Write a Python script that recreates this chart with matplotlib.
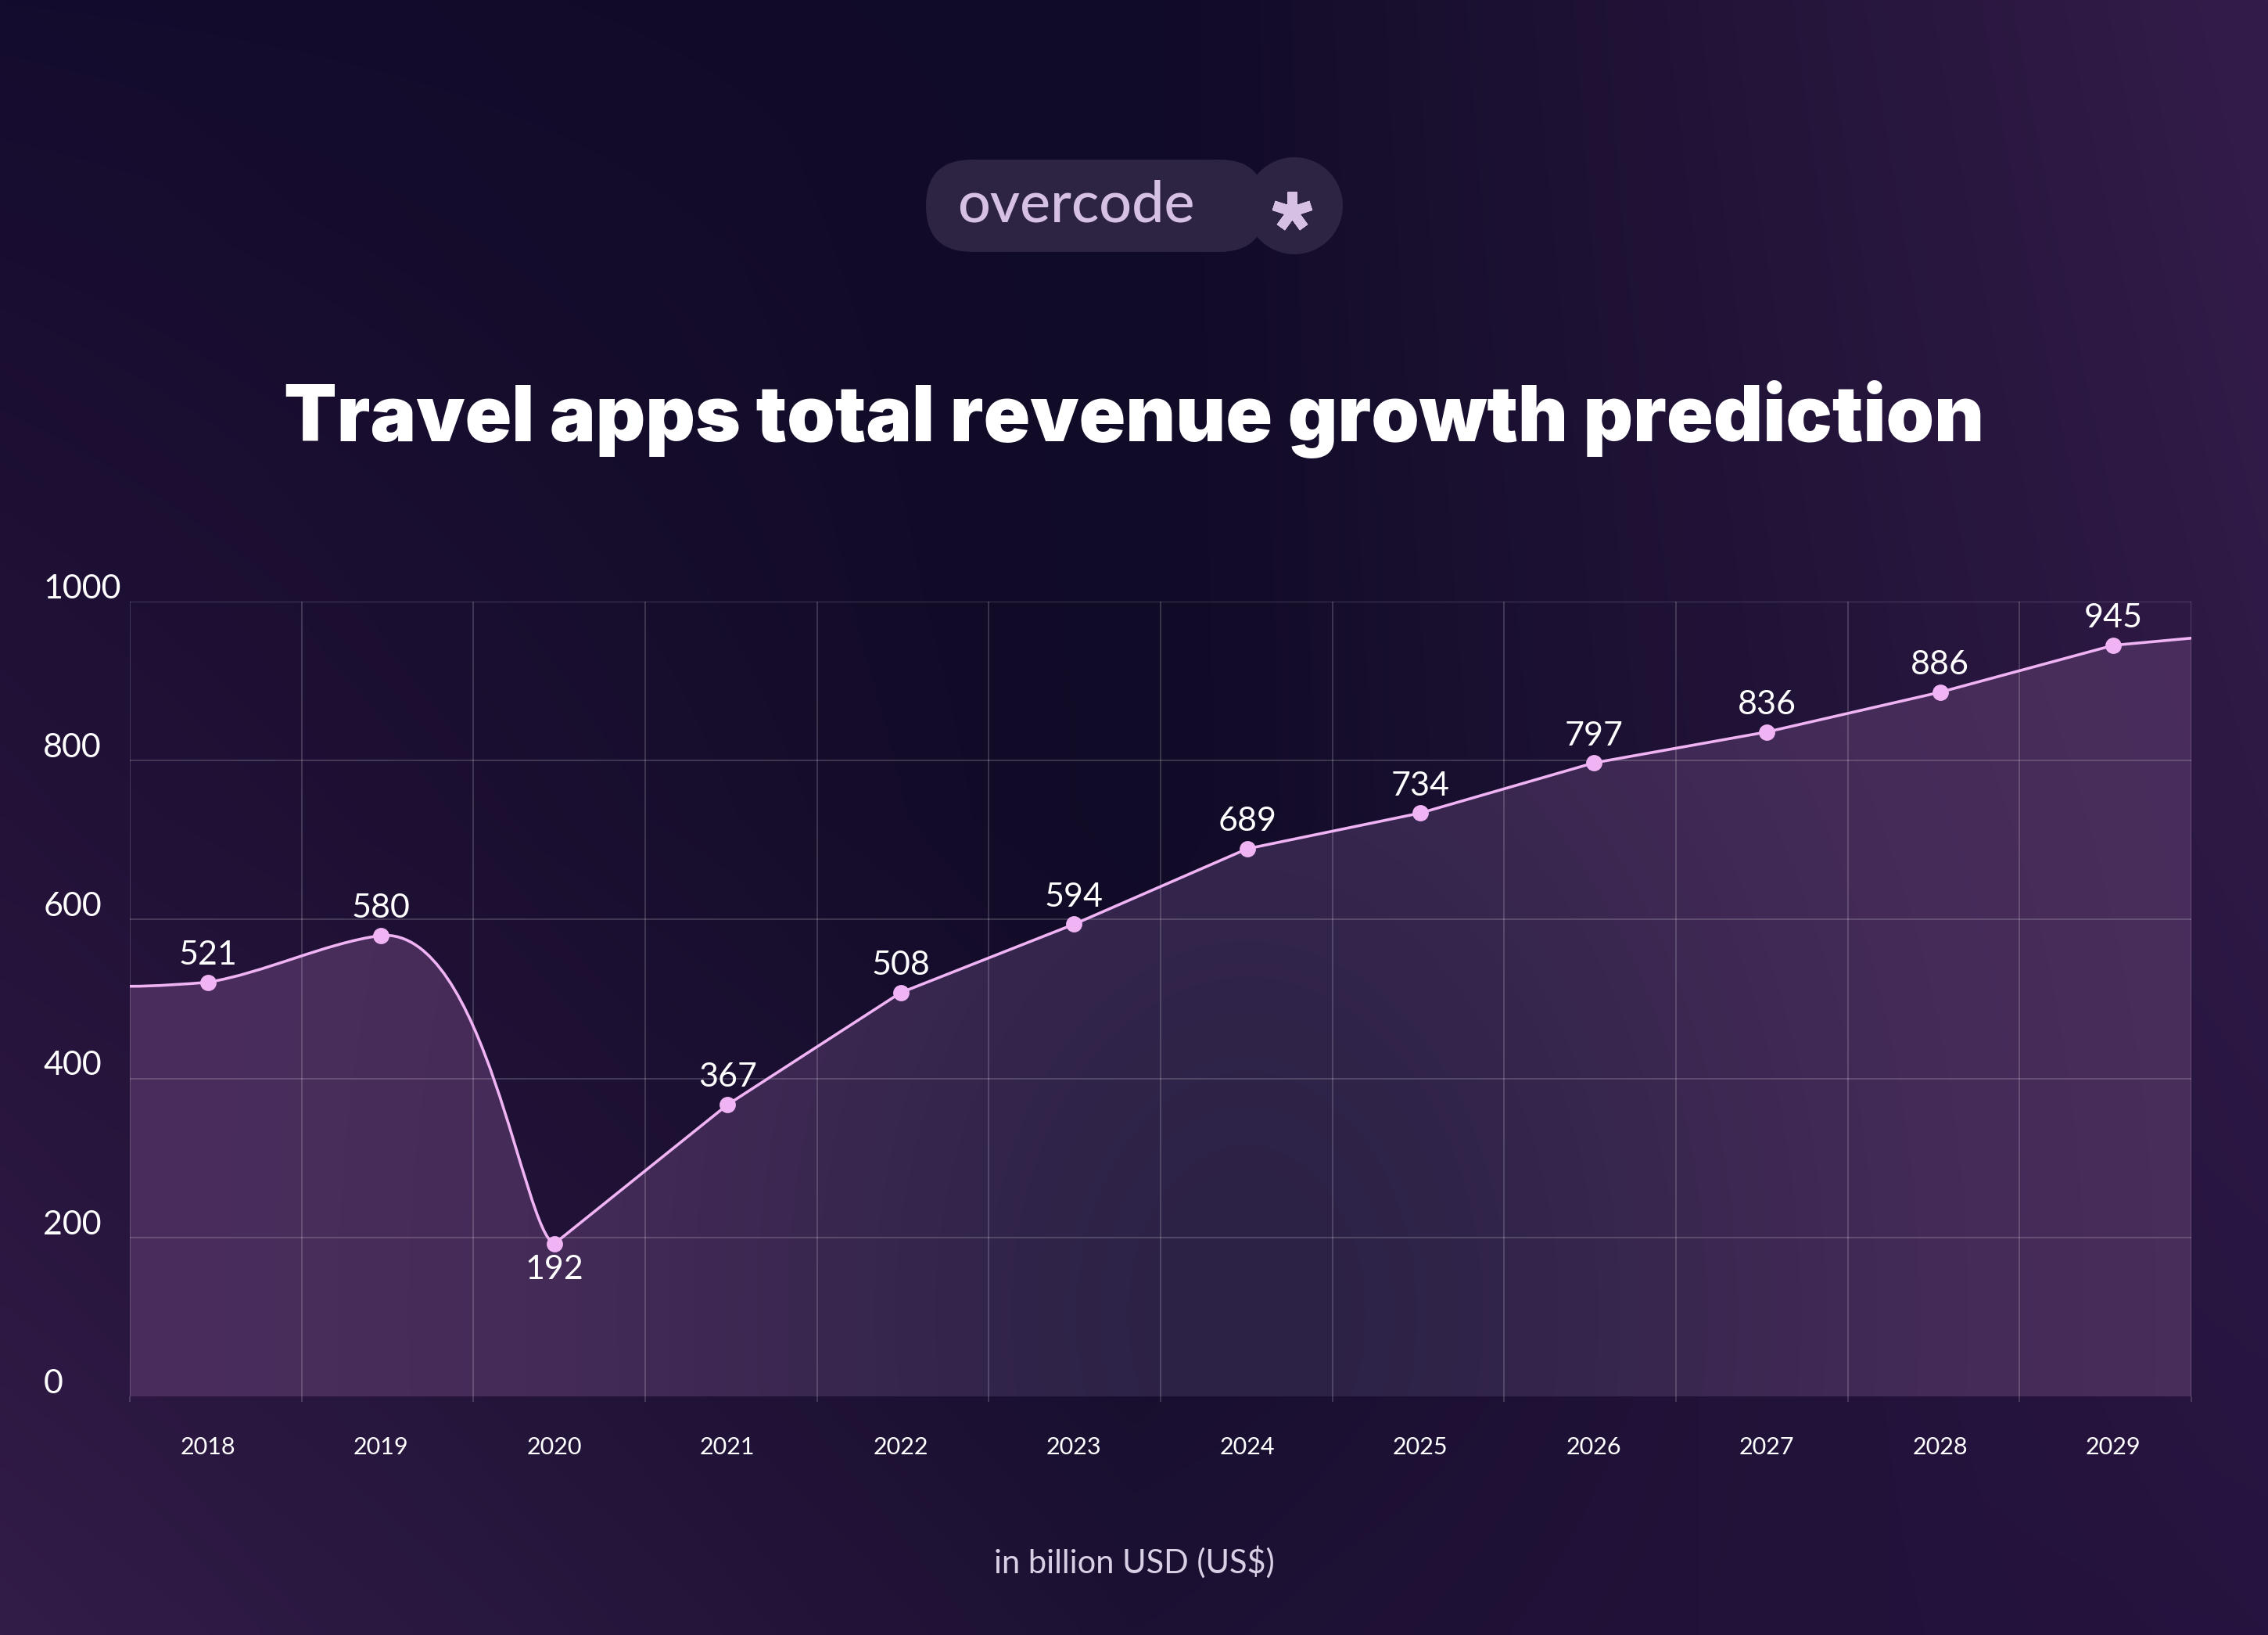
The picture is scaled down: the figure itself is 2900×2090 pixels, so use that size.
import numpy as np
import matplotlib.pyplot as plt
from matplotlib.path import Path
from matplotlib.patches import PathPatch, FancyBboxPatch, Circle

# data
years = ['2018', '2019', '2020', '2021', '2022', '2023',
         '2024', '2025', '2026', '2027', '2028', '2029']
revenue = [521, 580, 192, 367, 508, 594, 689, 734, 797, 836, 886, 945]
edge_values = [516, 954]          # line runs on to the left / right plot edges
y_ticks = [0, 200, 400, 600, 800, 1000]

title = 'Travel apps total revenue growth prediction'
caption = 'in billion USD (US$)'

W, H = 2900, 2090
line_c = '#f0b4f5'

fig = plt.figure(figsize=(W / 200, H / 200), dpi=200)


def hat_weights(t):
    w0 = np.clip(1 - 2 * t, 0, 1)
    w2 = np.clip(2 * t - 1, 0, 1)
    return [w0, 1 - w0 - w2, w2]


# background gradient (3x3 colour grid, blended)
grid = np.array([
    [(0x14, 0x0c, 0x2e), (0x10, 0x0b, 0x26), (0x34, 0x1c, 0x4a)],
    [(0x24, 0x12, 0x39), (0x10, 0x0b, 0x26), (0x2e, 0x19, 0x45)],
    [(0x32, 0x1c, 0x48), (0x1c, 0x11, 0x33), (0x26, 0x13, 0x3f)],
]) / 255.0
gx = hat_weights(np.linspace(0, 1, 290))
gy = hat_weights(np.linspace(0, 1, 209))
bg = np.zeros((209, 290, 3))
for r in range(3):
    for c in range(3):
        bg += gy[r][:, None, None] * gx[c][None, :, None] * grid[r, c]

ax_bg = fig.add_axes([0, 0, 1, 1])
ax_bg.imshow(bg, extent=[0, W, H, 0], aspect='auto', interpolation='bilinear')
ax_bg.set_xlim(0, W)
ax_bg.set_ylim(H, 0)
ax_bg.axis('off')

# logo
logo_c = '#2d2442'
ax_bg.add_patch(FancyBboxPatch((1184, 204), 1618 - 1184, 118,
                               boxstyle='round,pad=0,rounding_size=59',
                               facecolor=logo_c, edgecolor='none'))
ax_bg.add_patch(Circle((1655, 263), 62, facecolor=logo_c, edgecolor='none'))
ax_bg.text(1224, 283, 'overcode', fontsize=26.5, color='#d6c1e2',
           family=['Lato', 'DejaVu Sans'], fontweight='medium',
           ha='left', va='baseline')
ax_bg.plot([1652], [270], marker=(5, 2, 0), ms=18, mew=4.6, color='#d6c1e2')

# title and caption
ax_bg.text(1450, 564, title, fontsize=35.5, color='white',
           family=['Inter', 'DejaVu Sans'], fontweight='black',
           ha='center', va='baseline')
ax_bg.text(1450, 1997, caption, fontsize=15, color='#d9d0e6',
           family=['Lato', 'DejaVu Sans'], fontweight='normal',
           ha='center', va='center')

# main chart
ax = fig.add_axes([166 / W, 1 - 1785 / H, (2802 - 166) / W, (1785 - 769) / H])
ax.set_facecolor('none')
x0, x1 = -0.45, 11.45
x = np.arange(len(revenue))
v = revenue

verts = [(x0, edge_values[0]),
         (x0 + 0.15, edge_values[0]), (-0.12, v[0] - 2), (0, v[0]),
         (0.33, v[0] + 12), (0.67, v[1] - 10), (1, v[1]),
         (1.6, v[1] + 10), (1.82, v[2] + 15), (2, v[2])]
codes = [Path.MOVETO] + [Path.CURVE4] * 9
for i in range(3, len(v)):
    verts.append((x[i], v[i]))
    codes.append(Path.LINETO)
verts.append((x1, edge_values[1]))
codes.append(Path.LINETO)

# area fill with its own gradient
fill_path = Path(verts + [(x1, 0), (x0, 0), (x0, edge_values[0])],
                 codes + [Path.LINETO, Path.LINETO, Path.CLOSEPOLY])
fill_patch = PathPatch(fill_path, facecolor='none', edgecolor='none')
ax.add_patch(fill_patch)
xx, yy = np.meshgrid(np.linspace(x0, x1, 300), np.linspace(0, 1000, 200))
t = np.exp(-((xx - 6.0) / 3.2) ** 2 - ((yy - 100) / 1000) ** 2)
edge_col = np.array([0x4a, 0x2d, 0x5c]) / 255
mid_col = np.array([0x2c, 0x22, 0x46]) / 255
fimg = edge_col * (1 - t[..., None]) + mid_col * t[..., None]
im = ax.imshow(fimg, extent=[x0, x1, 0, 1000], aspect='auto', origin='lower',
               interpolation='bilinear', zorder=1)
im.set_clip_path(fill_patch)

# grid
grid_c = (1, 1, 1, 0.2)
for yv in y_ticks[1:]:
    ax.axhline(yv, color=grid_c, lw=0.6, zorder=2)
vlines = np.linspace(x0, x1, 13)
for xv in vlines:
    ax.axvline(xv, color=grid_c, lw=0.6, zorder=2)

ax.add_patch(PathPatch(Path(verts, codes), facecolor='none', edgecolor=line_c,
                       lw=1.3, zorder=4, capstyle='round'))
ax.plot(x, v, 'o', ms=6.5, color=line_c, zorder=5)

lbl_font = ['Lato', 'DejaVu Sans']
for i, val in enumerate(v):
    off = -12 if i == 2 else 12.5
    ax.annotate(str(val), (x[i], val), xytext=(0, off), textcoords='offset points',
                ha='center', va='center', fontsize=15.5, color='white',
                family=lbl_font, fontweight='normal', zorder=6)

for i, yr in enumerate(years):
    ax.text(x[i], -0.064, yr, transform=ax.get_xaxis_transform(),
            ha='center', va='center', fontsize=11, color='white', family=lbl_font)

for yv in y_ticks:
    ax.annotate(str(yv), (-0.042, yv), xycoords=ax.get_yaxis_transform(),
                xytext=(0, -1), textcoords='offset points', ha='left', va='bottom',
                fontsize=15.5, color='white', family=lbl_font, fontweight='normal',
                annotation_clip=False)

ax.set_xlim(x0, x1)
ax.set_ylim(0, 1000)
ax.set_xticks([])
ax.set_yticks([])
ax.set_xticks(vlines, minor=True)
ax.tick_params(axis='x', which='minor', length=2.5, width=0.6, color=grid_c)
for s in ax.spines.values():
    s.set_visible(False)

fig.savefig('out.png', dpi=200)
